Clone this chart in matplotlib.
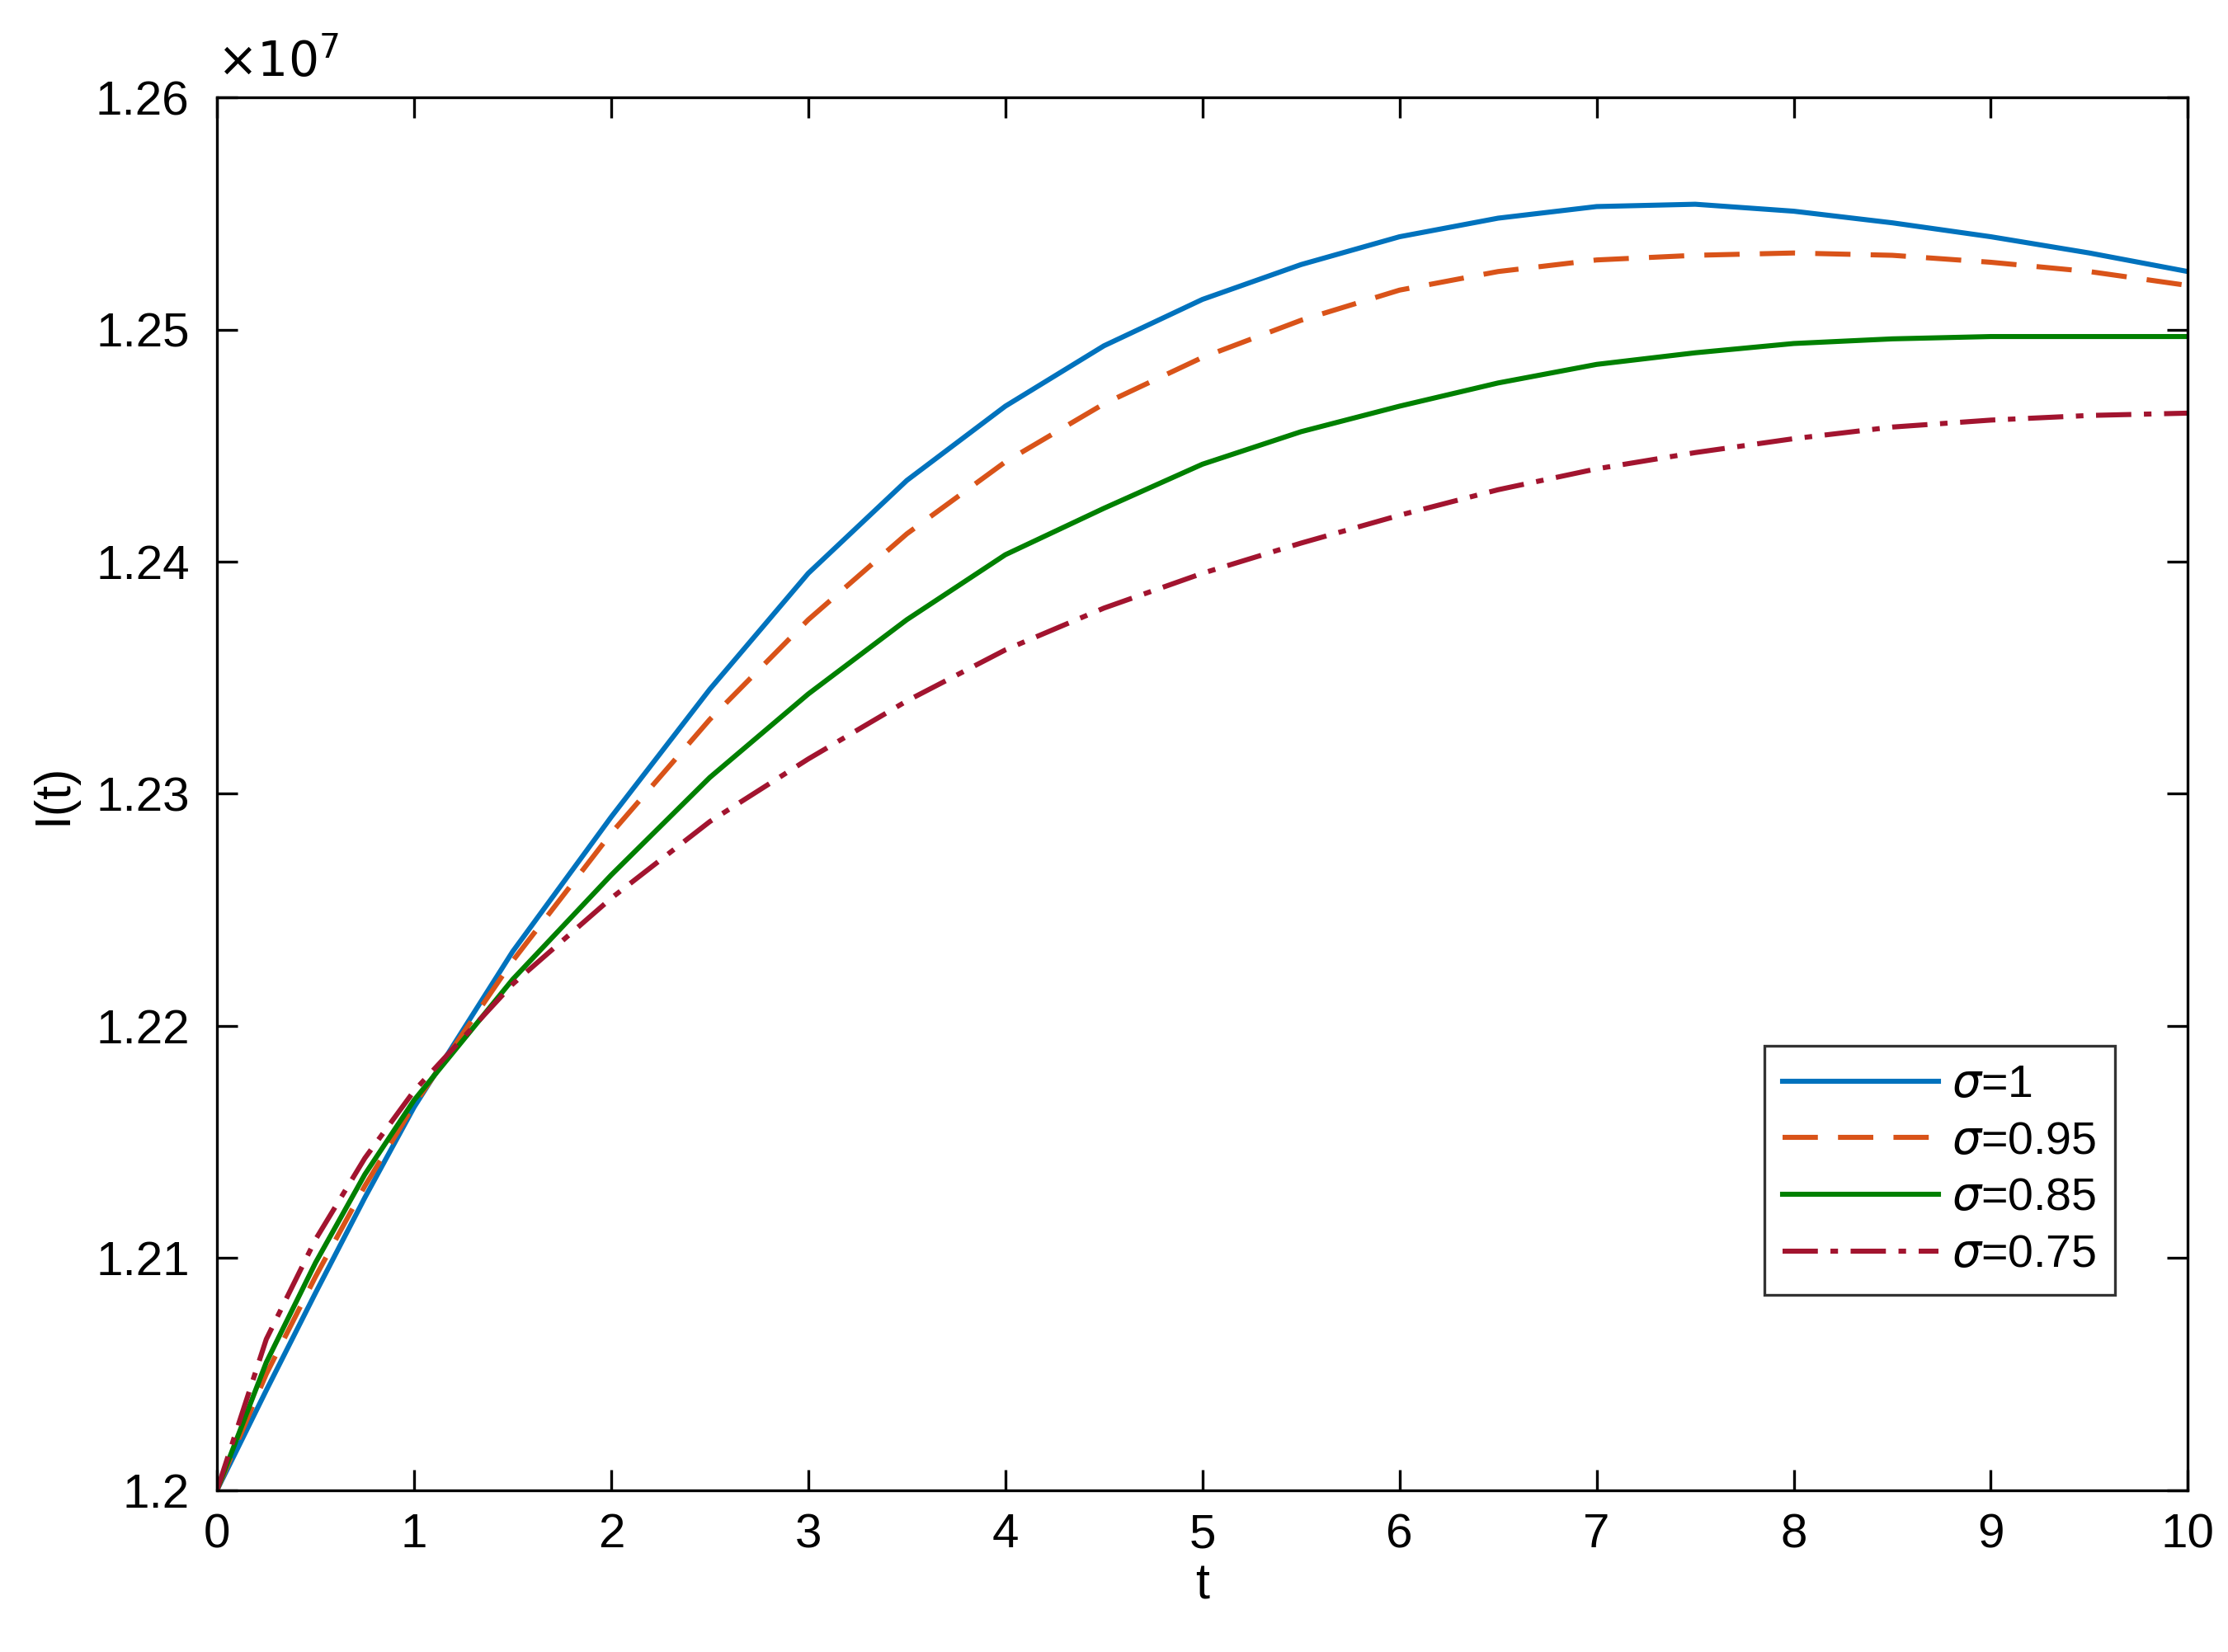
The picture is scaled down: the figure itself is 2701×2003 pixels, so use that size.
from matplotlib import pyplot as plt
from matplotlib.ticker import FuncFormatter
import numpy as np

plt.rcParams['font.family'] = ['Liberation Sans', 'DejaVu Sans']
plt.rcParams['mathtext.fontset'] = 'dejavusans'

# values (units of 1e7)
t = [0, 0.25, 0.5, 0.75, 1, 1.5, 2, 2.5, 3, 3.5, 4, 4.5, 5, 5.5, 6, 6.5, 7, 7.5, 8, 8.5, 9, 9.5, 10]
sigma_1 = [1.2000, 1.2043, 1.2085, 1.2126, 1.2165, 1.2232, 1.2290, 1.2345, 1.2395, 1.2435, 1.2467, 1.2493,
           1.2513, 1.2528, 1.2540, 1.2548, 1.2553, 1.2554, 1.2551, 1.2546, 1.2540, 1.2533, 1.2525]
sigma_095 = [1.2000, 1.2050, 1.2092, 1.2131, 1.2166, 1.2228, 1.2283, 1.2332, 1.2375, 1.2412, 1.2443, 1.2468,
             1.2488, 1.2504, 1.2517, 1.2525, 1.2530, 1.2532, 1.2533, 1.2532, 1.2529, 1.2525, 1.2519]
sigma_085 = [1.2000, 1.2055, 1.2098, 1.2136, 1.2168, 1.2220, 1.2265, 1.2307, 1.2343, 1.2375, 1.2403, 1.2423,
             1.2442, 1.2456, 1.2467, 1.2477, 1.2485, 1.2490, 1.2494, 1.2496, 1.2497, 1.2497, 1.2497]
sigma_075 = [1.2000, 1.2065, 1.2108, 1.2143, 1.2172, 1.2218, 1.2255, 1.2288, 1.2315, 1.2340, 1.2362, 1.2380,
             1.2395, 1.2408, 1.2420, 1.2431, 1.2440, 1.2447, 1.2453, 1.2458, 1.2461, 1.2463, 1.2464]

fig = plt.figure(figsize=(13.505, 10.015), dpi=200)
ax = fig.add_axes([0.0974, 0.098, 0.8846, 0.843])

ax.plot(t, sigma_1, color='#0072BD', lw=2.2, label=r'$\sigma$=1', solid_joinstyle='round')
ax.plot(t, sigma_095, color='#D95319', lw=2.2, ls=(0, (7, 4)), label=r'$\sigma$=0.95')
ax.plot(t, sigma_085, color='#008000', lw=2.2, label=r'$\sigma$=0.85', solid_joinstyle='round')
ax.plot(t, sigma_075, color='#A2142F', lw=2.2, ls=(0, (7, 2.5, 1.5, 2.5)), label=r'$\sigma$=0.75')

ax.set_xlim(0, 10)
ax.set_ylim(1.2, 1.26)
ax.set_xticks(np.arange(0, 11, 1))
ax.set_yticks([1.2, 1.21, 1.22, 1.23, 1.24, 1.25, 1.26])
ax.yaxis.set_major_formatter(FuncFormatter(lambda v, p: f'{v:g}'))
ax.tick_params(direction='in', top=True, right=True, labelsize=21, length=9, width=1.2)
ax.tick_params(axis='y', pad=12)
ax.tick_params(axis='x', pad=10)
for s in ax.spines.values():
    s.set_linewidth(1.2)
ax.set_xlabel('t', fontsize=22, labelpad=2)
ax.set_ylabel('I(t)', fontsize=22, labelpad=8)
ax.text(0.0, 1.008, r'$\times10^{7}$', transform=ax.transAxes, fontsize=21, ha='left', va='bottom')

leg = ax.legend(loc='lower left', bbox_to_anchor=(0.785, 0.14), fontsize=20, frameon=True,
                fancybox=False, edgecolor='black', handlelength=3.4, handletextpad=0.3,
                borderpad=0.4, labelspacing=0.3, borderaxespad=0)
leg.get_frame().set_linewidth(1.2)

fig.savefig('out.png', dpi=200, facecolor='white')
